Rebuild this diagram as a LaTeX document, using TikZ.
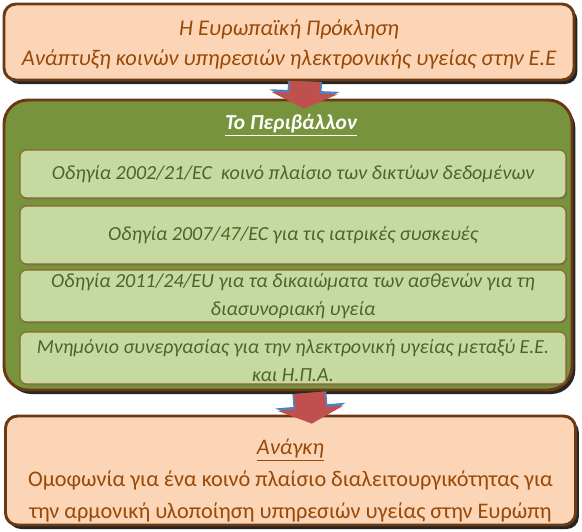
\documentclass[tikz,border=0pt]{standalone}
\usepackage{fontspec}
\setmainfont{Carlito}
\usetikzlibrary{shadows,arrows.meta}
\definecolor{peach}{HTML}{FBD5B5}
\definecolor{rust}{HTML}{984807}
\definecolor{boxbrown}{HTML}{6B3A12}
\definecolor{olive}{HTML}{77933C}
\definecolor{palegreen}{HTML}{C6D9A0}
\definecolor{darkolive}{HTML}{4F6228}
\definecolor{tipbrown}{HTML}{8C6430}
\definecolor{arrowred}{HTML}{C0504D}
\definecolor{arrowblue}{HTML}{4F81BD}
\begin{document}
\begin{tikzpicture}[x=0.75pt,y=-0.75pt,
		outerbox/.style={draw=boxbrown,line width=2.2pt,rounded corners=9pt,
			drop shadow={shadow xshift=2.5pt,shadow yshift=-3pt,fill=black,opacity=.85}},
		peachbox/.style={outerbox,fill=peach,text=rust,align=center,inner sep=0pt,
			minimum width=427.5pt},
		innerbox/.style={draw=tipbrown,line width=.8pt,fill=palegreen,rounded corners=5pt,
			minimum width=409.5pt,inner sep=0pt,align=center,text=darkolive,
			font=\fontsize{15}{21.5}\selectfont\itshape,
			drop shadow={shadow xshift=.8pt,shadow yshift=-1pt,fill=black!60,opacity=.6}},
		bigarrow/.style={draw=arrowred,line width=23pt,-{Triangle[width=49.5pt,length=11.5pt,line width=0pt]},
			preaction={draw=arrowblue,line width=25.5pt,-{Triangle[width=53pt,length=13.5pt,line width=0pt]}}}]
	\useasboundingbox (0,0) rectangle (582,532);

	% the challenge
	\node[peachbox,minimum height=57pt,font=\fontsize{16.8}{22.5}\selectfont\itshape] (challenge) at (289,42)
		{\rule{0pt}{15pt}Η Ευρωπαϊκή Πρόκληση\\Ανάπτυξη κοινών υπηρεσιών ηλεκτρονικής υγείας στην Ε.Ε};

	% the environment
	\node[outerbox,fill=olive,rounded corners=18pt,minimum width=426pt,minimum height=217.5pt] (env) at (288,245) {};
	\node[text=white,font=\fontsize{16}{20}\selectfont\bfseries\itshape] (envtitle) at (291,125) {\underline{Το Περιβάλλον}};
	\node[innerbox,minimum height=36pt] (dir1) at (293,174) {Οδηγία 2002/21/EC \ κοινό πλαίσιο των δικτύων δεδομένων};
	\node[innerbox,minimum height=43.5pt] (dir2) at (293,235) {Οδηγία 2007/47/EC για τις ιατρικές συσκευές};
	\node[innerbox,minimum height=39pt] (dir3) at (293,296) {Οδηγία 2011/24/EU για τα δικαιώματα των ασθενών για τη\\διασυνοριακή υγεία};
	\node[innerbox,minimum height=39pt] (dir4) at (293,358) {\rule{0pt}{14.5pt}Μνημόνιο συνεργασίας για την ηλεκτρονική υγείας μεταξύ Ε.Ε.\\και Η.Π.Α.};

	% the need
	\node[peachbox,minimum height=81.75pt,font=\fontsize{16.7}{24}\selectfont] (need) at (290.5,470.5)
		{\rule{0pt}{26.5pt}\textit{\underline{Ανάγκη}}\\Ομοφωνία για ένα κοινό πλαίσιο διαλειτουργικότητας για\\την αρμονική υλοποίηση υπηρεσιών υγείας στην Ευρώπη};

	\draw[bigarrow] ([xshift=12pt]challenge.south) -- ([xshift=12pt,yshift=-7.5pt]env.north);
	\draw[bigarrow] ([xshift=16pt,yshift=-1pt]env.south) -- ([xshift=16pt,yshift=-6.75pt]need.north);
\end{tikzpicture}
\end{document}
